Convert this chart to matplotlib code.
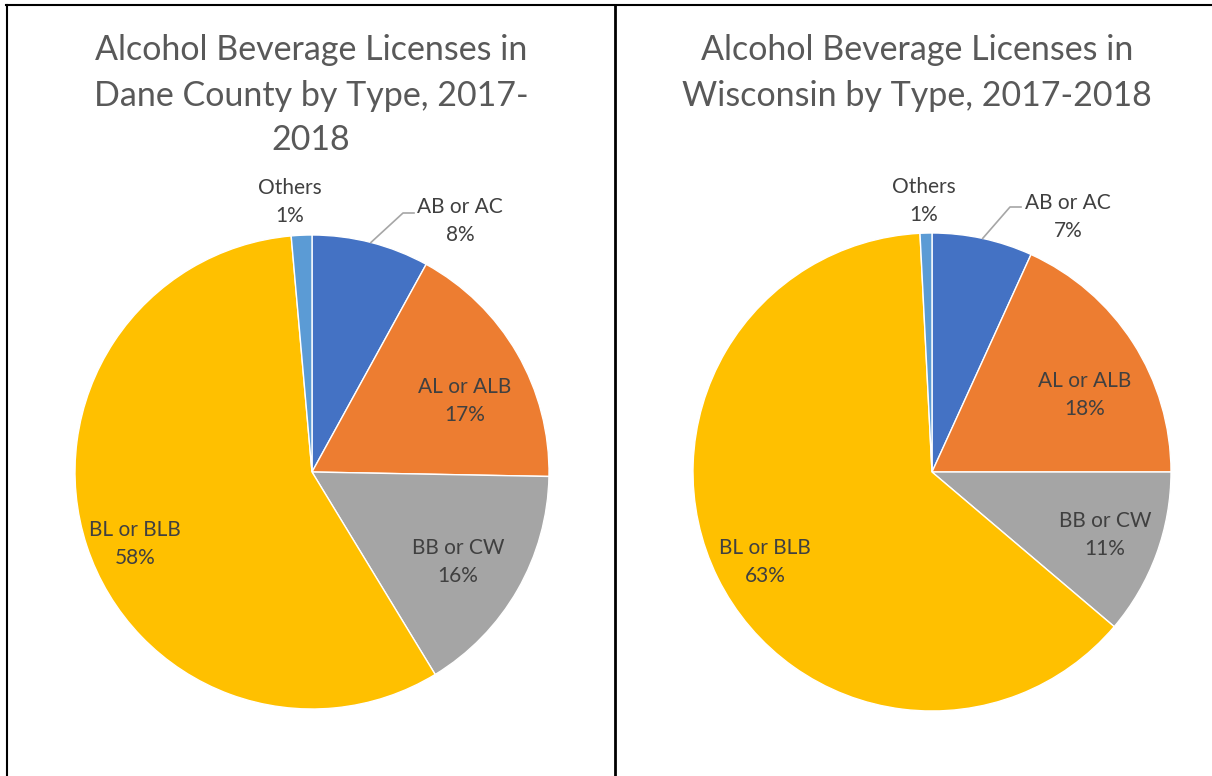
import matplotlib
matplotlib.use("Agg")
import matplotlib.pyplot as plt
import numpy as np

categories = ["AB or AC", "AL or ALB", "BB or CW", "BL or BLB", "Others"]
dane_values = [8.0, 17.3, 16.0, 57.3, 1.4]
dane_pct = ["8%", "17%", "16%", "58%", "1%"]
wi_values = [6.8, 18.2, 11.2, 63.0, 0.8]
wi_pct = ["7%", "18%", "11%", "63%", "1%"]
titles = ["Alcohol Beverage Licenses in\nDane County by Type, 2017-\n2018",
          "Alcohol Beverage Licenses in\nWisconsin by Type, 2017-2018"]
colors = ["#4472C4", "#ED7D31", "#A5A5A5", "#FFC000", "#5B9BD5"]

W, H = 1212, 776
fig = plt.figure(figsize=(W / 100, H / 100), dpi=100)
fig.patch.set_facecolor("white")

FONT = ["Lato", "DejaVu Sans"]

def make_axes(x0, x1, cx, cy, r):
    ax = fig.add_axes([x0 / W, 0, (x1 - x0) / W, 1])
    ax.set_xlim((x0 - cx) / r, (x1 - cx) / r)
    ax.set_ylim((cy - H) / r, cy / r)
    ax.axis("off")
    return ax

def px(ax_c, p):
    cx, cy, r = ax_c
    return (p[0] - cx) / r, (cy - p[1]) / r

panels = [
    dict(x0=8, x1=614, c=(312, 472, 237), vals=dane_values, pct=dane_pct, title=titles[0],
         title_x=311, title_y=[50, 96, 140],
         labpos=[(460, 221), (465, 401), (458, 562), (135, 544), (290, 202)],
         elbow=(403, 213), elbow_end=(414, 213)),
    dict(x0=616, x1=1212, c=(932, 472, 239), vals=wi_values, pct=wi_pct, title=titles[1],
         title_x=917, title_y=[50, 96],
         labpos=[(1068, 217), (1085, 395), (1105, 535), (765, 562), (924, 201)],
         elbow=(1010, 207), elbow_end=(1021, 207)),
]

for p in panels:
    cx, cy, r = p["c"]
    ax = make_axes(p["x0"], p["x1"], cx, cy, r)
    ax.pie(p["vals"], colors=colors, startangle=90, counterclock=False, radius=1,
           center=(0, 0), wedgeprops=dict(edgecolor="white", linewidth=1.0))
    ax.set_xlim((p["x0"] - cx) / r, (p["x1"] - cx) / r)
    ax.set_ylim((cy - H) / r, cy / r)
    # title
    for line, ty in zip(p["title"].split("\n"), p["title_y"]):
        x, y = px(p["c"], (p["title_x"], ty))
        ax.text(x, y, line, ha="center", va="center", fontsize=24.5, color="#595959",
                family=FONT, fontweight="normal")
    # labels
    for cat, pc, pos in zip(categories, p["pct"], p["labpos"]):
        x, y = px(p["c"], pos)
        ax.text(x, y, cat + "\n" + pc, ha="center", va="center", fontsize=15,
                color="#404040", family=FONT, linespacing=1.55)
    # leader line for first slice
    frac_mid = p["vals"][0] / 2 / sum(p["vals"])
    ang = 2 * np.pi * frac_mid
    sx, sy = np.sin(ang), np.cos(ang)
    ex, ey = px(p["c"], p["elbow"])
    hx, hy = px(p["c"], p["elbow_end"])
    ax.plot([sx, ex, hx], [sy, ey, hy], color="#A6A6A6", lw=1.2)

# table borders
border = fig.add_axes([0, 0, 1, 1])
border.set_xlim(0, W)
border.set_ylim(H, 0)
border.axis("off")
border.patch.set_alpha(0)
border.plot([6, W], [5, 5], color="black", lw=1.5)
border.plot([7, 7], [5, H], color="black", lw=1.5)
border.plot([615, 615], [5, H], color="black", lw=2)

fig.savefig("out.png", dpi=100, facecolor="white")
